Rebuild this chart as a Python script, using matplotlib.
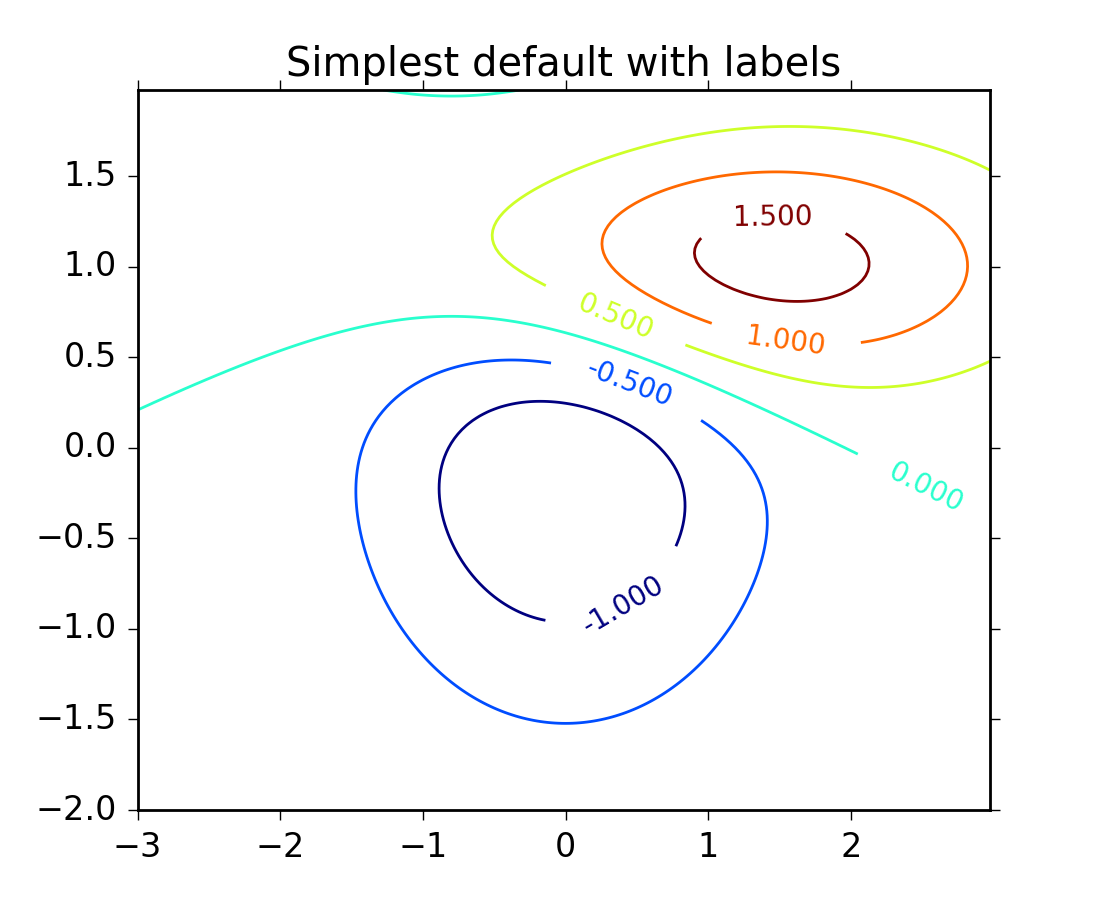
import numpy as np
import matplotlib
matplotlib.use('Agg')
import matplotlib.pyplot as plt

plt.style.use('classic')

# grid extent and spacing
x_start, x_stop = -3.0, 3.0
y_start, y_stop = -2.0, 2.0
delta = 0.025

# two gaussian bumps: (sigma_x, sigma_y, mu_x, mu_y)
bump_neg = (1.0, 1.0, 0.0, 0.0)
bump_pos = (1.5, 0.5, 1.0, 1.0)
scale = 10.0

levels = [-1.0, -0.5, 0.0, 0.5, 1.0, 1.5]

# where the inline labels sit (data coords), one per level
label_spots = [(0.30, -0.74), (0.42, 0.30), (2.52, -0.23),
               (0.35, 0.73), (1.55, 0.64), (1.45, 1.27)]


def bivariate_normal(X, Y, sx, sy, mx, my):
    xm = X - mx
    ym = Y - my
    z = xm**2 / sx**2 + ym**2 / sy**2
    return np.exp(-z / 2) / (2 * np.pi * sx * sy)


x = np.arange(x_start, x_stop, delta)
y = np.arange(y_start, y_stop, delta)
X, Y = np.meshgrid(x, y)
Z1 = bivariate_normal(X, Y, *bump_neg)
Z2 = bivariate_normal(X, Y, *bump_pos)
Z = scale * (Z2 - Z1)

fig = plt.figure(figsize=(5.5, 4.5), dpi=200)
ax = fig.add_subplot(111)
CS = ax.contour(X, Y, Z, levels=levels, cmap='jet')
ax.set_title('Simplest default with labels')
ax.set_xlim(x.min(), x.max())
ax.set_ylim(y.min(), y.max())
ax.tick_params(direction='out', length=3.5, top=True, right=True)
ax.clabel(CS, inline=1, fontsize=10, fmt='%1.3f', manual=label_spots,
          inline_spacing=36)

fig.savefig('out.png', dpi=200)
